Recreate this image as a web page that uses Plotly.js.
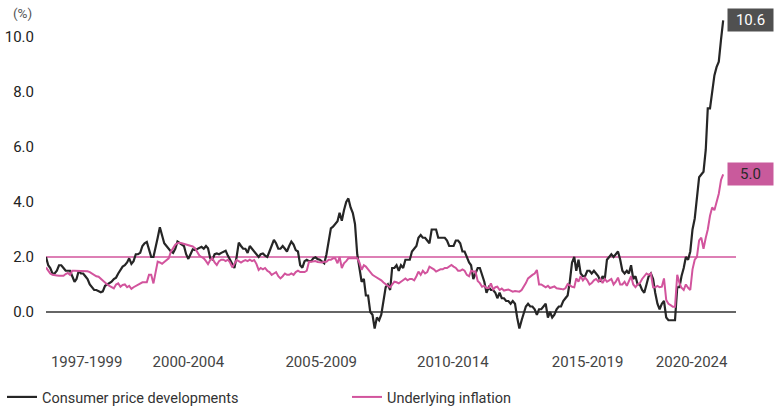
<!DOCTYPE html>
<html>
<head>
<meta charset="utf-8">
<script src="https://cdn.plot.ly/plotly-3.0.1.min.js"></script>
<style>
  html, body { margin: 0; padding: 0; background: #ffffff; }
  #chart { width: 775px; height: 412px; }
</style>
</head>
<body>
<div id="chart"></div>
<script>
// ---- Data (monthly, year-on-year %, from January 1997) ----
var startYear = 1997;
var seriesNames = ["Consumer price developments", "Underlying inflation"];

var consumerPrices = [
  2.0,1.7,1.6,1.4,1.4,1.5,1.7,1.7,1.6,1.5,1.5,1.5,          // 1997
  1.3,1.1,1.2,1.5,1.4,1.4,1.3,1.2,1.0,0.9,0.8,0.8,          // 1998
  0.75,0.72,0.75,0.95,1.0,1.05,1.1,1.2,1.25,1.4,1.55,1.65,  // 1999
  1.7,1.8,1.95,1.75,1.85,2.1,2.1,2.15,2.4,2.5,2.55,2.3,     // 2000
  2.0,2.0,2.4,2.7,3.08,2.75,2.5,2.4,2.3,2.2,2.15,2.3,       // 2001
  2.56,2.5,2.47,2.4,2.1,1.93,2.1,2.28,2.25,2.3,2.35,2.37,   // 2002
  2.3,2.4,2.32,1.95,1.91,2.1,2.13,2.1,2.15,2.2,2.23,2.05,   // 2003
  1.9,1.7,1.6,2.0,2.52,2.4,2.3,2.3,2.15,2.4,2.3,2.2,        // 2004
  2.1,2.0,2.1,2.13,2.05,2.0,2.2,2.4,2.62,2.5,2.3,2.3,       // 2005
  2.4,2.3,2.2,2.4,2.56,2.45,2.25,2.2,1.7,1.61,1.85,1.9,     // 2006
  1.85,1.85,1.95,1.99,1.92,1.9,1.85,1.77,2.1,2.6,3.04,3.1,  // 2007
  3.22,3.3,3.61,3.32,3.7,4.0,4.13,3.8,3.6,3.2,2.1,1.6,      // 2008
  1.1,1.2,0.6,0.6,0.0,-0.1,-0.6,-0.2,-0.3,-0.1,0.5,0.9,     // 2009
  1.0,0.8,1.6,1.6,1.7,1.5,1.7,1.6,1.9,1.9,1.9,2.2,          // 2010
  2.3,2.4,2.7,2.8,2.7,2.7,2.6,2.5,3.0,3.0,3.0,2.7,          // 2011
  2.7,2.7,2.7,2.6,2.4,2.4,2.4,2.6,2.6,2.5,2.2,2.2,          // 2012
  2.0,1.8,1.7,1.2,1.4,1.6,1.6,1.3,1.1,0.7,0.9,0.8,          // 2013
  0.8,0.7,0.5,0.7,0.5,0.5,0.4,0.4,0.3,0.4,0.3,-0.2,         // 2014
  -0.6,-0.3,-0.1,0.2,0.3,0.2,0.2,0.1,-0.1,0.1,0.1,0.2,      // 2015
  0.3,-0.2,0.0,-0.2,-0.1,0.1,0.2,0.2,0.4,0.5,0.6,1.1,       // 2016
  1.8,2.0,1.5,1.9,1.4,1.3,1.3,1.5,1.5,1.4,1.5,1.4,          // 2017
  1.3,1.1,1.3,1.2,1.9,2.0,2.1,2.0,2.1,2.2,1.9,1.5,          // 2018
  1.4,1.5,1.4,1.7,1.2,1.3,1.0,1.0,0.8,0.7,1.0,1.3,          // 2019
  1.4,1.2,0.7,0.3,0.1,0.3,0.4,-0.2,-0.3,-0.3,-0.3,-0.3,     // 2020
  0.9,0.9,1.3,1.6,2.0,1.9,2.2,3.0,3.4,4.1,4.9,5.0,          // 2021
  5.1,5.9,7.4,7.4,8.1,8.6,8.9,9.1,9.9,10.6                  // 2022
];

var underlying = [
  1.62,1.5,1.4,1.35,1.35,1.33,1.32,1.33,1.32,1.38,1.42,1.35,   // 1997
  1.5,1.5,1.5,1.5,1.5,1.5,1.5,1.48,1.45,1.4,1.35,1.3,          // 1998
  1.28,1.2,1.13,1.05,1.0,0.95,0.9,0.86,1.0,1.04,0.92,0.98,     // 1999
  1.0,0.9,0.95,0.84,0.9,0.95,1.0,1.05,1.08,1.08,1.08,1.35,     // 2000
  1.35,1.04,1.4,1.83,1.8,1.75,1.82,1.89,1.95,2.19,2.3,2.45,    // 2001
  2.5,2.52,2.5,2.48,2.45,2.42,2.4,2.38,2.32,2.2,2.05,2.0,      // 2002
  1.95,1.85,1.74,1.89,1.95,1.8,1.71,1.85,1.9,1.9,1.85,1.9,     // 2003
  1.8,1.62,1.75,1.89,1.85,1.8,1.85,1.89,1.85,1.9,1.85,1.89,    // 2004
  1.75,1.53,1.6,1.55,1.6,1.5,1.45,1.35,1.4,1.45,1.3,1.22,      // 2005
  1.3,1.4,1.35,1.35,1.4,1.35,1.45,1.5,1.45,1.45,1.45,1.5,      // 2006
  1.83,1.83,1.83,1.85,1.82,1.8,1.8,1.83,1.83,1.9,1.9,1.95,     // 2007
  1.95,1.77,2.0,1.6,1.77,1.85,1.95,1.95,1.95,1.95,1.95,1.8,    // 2008
  1.53,1.7,1.65,1.55,1.45,1.35,1.3,1.25,1.22,1.15,1.07,1.0,    // 2009
  0.95,0.9,1.0,1.1,1.08,1.04,1.1,1.15,1.22,1.15,1.2,1.2,       // 2010
  1.15,1.3,1.47,1.35,1.5,1.4,1.45,1.65,1.6,1.55,1.47,1.5,      // 2011
  1.55,1.55,1.6,1.6,1.65,1.71,1.65,1.6,1.5,1.5,1.55,1.5,       // 2012
  1.35,1.3,1.5,1.47,1.47,1.13,1.05,0.92,0.95,0.87,0.87,1.04,   // 2013
  0.82,0.9,0.92,0.8,0.85,0.78,0.8,0.82,0.78,0.74,0.76,0.74,    // 2014
  0.74,0.8,0.9,1.05,1.22,1.3,1.35,1.4,1.53,1.0,1.0,0.95,       // 2015
  0.9,0.95,0.87,0.9,0.93,0.86,0.86,0.84,0.82,0.86,1.01,0.95,   // 2016
  0.92,0.9,1.22,1.1,1.3,1.15,1.25,1.15,1.0,1.05,1.15,1.2,      // 2017
  1.1,1.2,1.05,1.2,1.1,1.15,1.2,1.0,1.1,1.25,1.0,1.0,          // 2018
  1.1,0.95,1.1,1.3,1.0,0.9,1.0,1.05,1.2,1.3,1.4,1.35,          // 2019
  1.4,0.9,0.9,0.95,0.9,0.92,1.22,0.44,0.3,0.25,0.19,0.19,      // 2020
  1.35,1.05,0.88,0.8,1.0,0.88,0.8,1.55,1.9,2.0,2.6,2.7,        // 2021
  2.3,2.7,3.0,3.5,3.8,3.7,4.0,4.3,4.8,5.0                      // 2022
];

var referenceLevels = [0.0, 2.0];   // zero line, 2% target line
var periodLabels = ["1997-1999", "2000-2004", "2005-2009", "2010-2014", "2015-2019", "2020-2024"];
var periodLabelDates = ["1998-07-20", "2002-06-01", "2007-06-20", "2012-06-20", "2017-08-05", "2021-07-20"];
var yTickVals = [0, 2, 4, 6, 8, 10];

// ---- Build monthly dates ----
function monthDates(n) {
  var out = [];
  for (var i = 0; i < n; i++) {
    var y = startYear + Math.floor(i / 12);
    var m = (i % 12) + 1;
    out.push(y + "-" + (m < 10 ? "0" + m : m) + "-01");
  }
  return out;
}
var dates = monthDates(consumerPrices.length);

var BLACK = "#262626";
var PINK = "#d2549d";
var BOX_PINK = "#c95a9c";
var BOX_GREY = "#505050";
var FONT = "Roboto, 'Open Sans', sans-serif";

var traces = [
  {
    x: dates, y: consumerPrices, type: "scatter", mode: "lines",
    name: seriesNames[0], line: { color: BLACK, width: 2.2 },
    legend: "legend", hoverinfo: "skip"
  },
  {
    x: dates, y: underlying, type: "scatter", mode: "lines",
    name: seriesNames[1], line: { color: PINK, width: 2 },
    legend: "legend2", hoverinfo: "skip"
  }
];

var lastC = consumerPrices[consumerPrices.length - 1];
var lastU = underlying[underlying.length - 1];

var legendBase = {
  orientation: "h", xref: "container", yref: "container",
  y: 1 - 397 / 412, xanchor: "left", yanchor: "middle",
  font: { family: FONT, size: 14.5, color: "#333333" },
  itemwidth: 30, bgcolor: "rgba(0,0,0,0)"
};
var legend1 = Object.assign({}, legendBase, { x: 2 / 775 });
var legend2 = Object.assign({}, legendBase, { x: 347 / 775 });

var layout = {
  width: 775, height: 412,
  margin: { l: 46, r: 39, t: 10, b: 76 },
  paper_bgcolor: "#ffffff", plot_bgcolor: "#ffffff",
  font: { family: FONT, color: "#333333", size: 15 },
  showlegend: true,
  legend: legend1,
  legend2: legend2,
  xaxis: {
    type: "date",
    range: ["1997-01-01", "2023-03-28"],
    showgrid: false, zeroline: false, showline: false,
    tickmode: "array", tickvals: periodLabelDates, ticktext: periodLabels,
    ticks: "outside", ticklen: 12, tickcolor: "rgba(0,0,0,0)",
    tickfont: { family: FONT, size: 15, color: "#444444" },
    fixedrange: true
  },
  yaxis: {
    range: [-0.873, 10.98],
    showgrid: false, zeroline: false, showline: false,
    tickmode: "array", tickvals: yTickVals,
    tickformat: ".1f",
    ticks: "outside", ticklen: 8, tickcolor: "rgba(0,0,0,0)",
    tickfont: { family: FONT, size: 15, color: "#222222" },
    fixedrange: true
  },
  shapes: [
    {
      type: "line", xref: "paper", yref: "y", x0: 0, x1: 1,
      y0: referenceLevels[0], y1: referenceLevels[0],
      line: { color: "#333333", width: 1.3 }, layer: "below"
    },
    {
      type: "line", xref: "paper", yref: "y", x0: 0, x1: 1,
      y0: referenceLevels[1], y1: referenceLevels[1],
      line: { color: PINK, width: 1.3 }, layer: "below"
    }
  ],
  annotations: [
    {
      text: "(%)", xref: "paper", yref: "paper",
      x: (22 - 46) / 690, y: (336 - 13) / 326, xanchor: "center", yanchor: "middle",
      showarrow: false, font: { family: FONT, size: 13.5, color: "#555555" }
    },
    {
      text: lastC.toFixed(1), xref: "paper", yref: "y",
      x: 1.021, y: lastC, xanchor: "center", yanchor: "middle",
      showarrow: false, bgcolor: BOX_GREY, width: 41, height: 18,
      borderpad: 2, font: { family: FONT, size: 15, color: "#ffffff" }
    },
    {
      text: lastU.toFixed(1), xref: "paper", yref: "y",
      x: 1.021, y: lastU, xanchor: "center", yanchor: "middle",
      showarrow: false, bgcolor: BOX_PINK, width: 41, height: 18,
      borderpad: 2, font: { family: FONT, size: 15, color: "#2a2a2a" }
    }
  ]
};

Plotly.newPlot("chart", traces, layout, { displayModeBar: false, staticPlot: true });
</script>
</body>
</html>
